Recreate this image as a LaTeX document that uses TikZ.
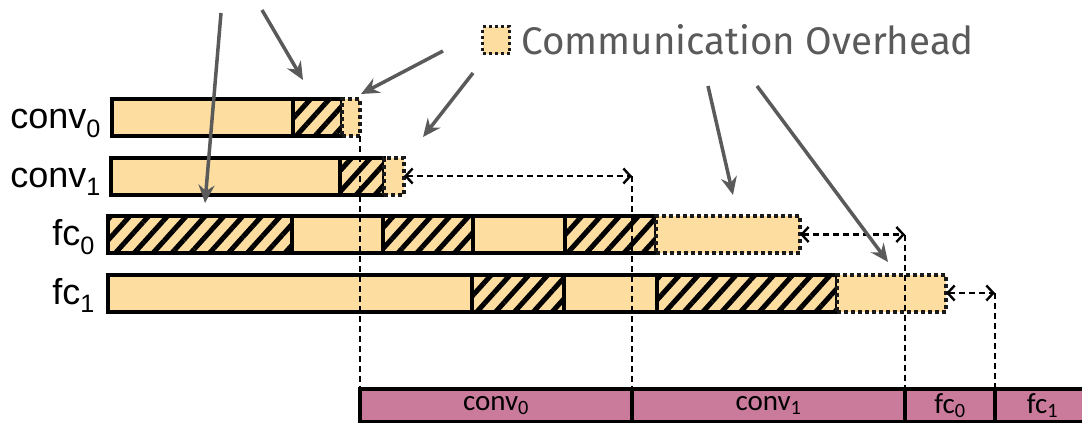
\documentclass[tikz,border=0pt]{standalone}
\usepackage{fontspec}
\setmainfont{Liberation Sans}
\newfontfamily\slotfont{Carlito}
\newfontfamily\keyfont{Fira Sans}
\usetikzlibrary{positioning, arrows.meta, patterns.meta}

\definecolor{peach}{RGB}{253,222,160}
\definecolor{mauve}{RGB}{202,122,155}
\definecolor{pointgray}{RGB}{90,90,90}

\begin{document}
\begin{tikzpicture}[
    x=1pt, y=-1pt,
    every node/.style={inner sep=0pt, outer sep=0pt},
    bar/.style={rectangle, draw, line width=4pt, fill=peach, minimum height=37pt},
    hatched/.style={bar, postaction={pattern={Lines[angle=48, distance=14pt, line width=5pt]}}},
    comm/.style={rectangle, draw=black!90, line width=4pt, dash pattern=on 4pt off 3pt, fill=peach, minimum height=37pt},
    slot/.style={rectangle, draw, line width=4pt, fill=mauve, minimum height=33pt, font=\slotfont\fontsize{29}{32}\selectfont},
    layer/.style={anchor=base east, font=\fontsize{36}{40}\selectfont},
    pointer/.style={draw=pointgray, line width=3.5pt, -{Stealth[length=18pt, width=16pt, inset=6pt]}},
    wait/.style={line width=2.6pt, dash pattern=on 6pt off 4pt},
    >={Straight Barb[length=7pt, width=15pt, line width=2.4pt]}
]
\useasboundingbox (0,0) rectangle (1082,423);

\node (l0) [layer] at (101,128) {conv\textsubscript{0}};
\node (l1) [layer] at (101,187) {conv\textsubscript{1}};
\node (l2) [layer] at (95,245) {fc\textsubscript{0}};
\node (l3) [layer] at (95,304) {fc\textsubscript{1}};

\node (c0a) [bar, minimum width=181pt, anchor=north west] at (112,99) {};
\node (c0b) [hatched, minimum width=49pt, right=0pt of c0a] {};
\node (c0c) [comm, minimum width=18pt, right=0pt of c0b] {};

\node (c1a) [bar, minimum width=229pt, anchor=north west] at (111,157.5) {};
\node (c1b) [hatched, minimum width=44pt, right=0pt of c1a] {};
\node (c1c) [comm, minimum width=20pt, right=0pt of c1b] {};

\node (f0a) [hatched, minimum width=184pt, anchor=north west] at (108,216) {};
\node (f0b) [bar, minimum width=91pt, right=0pt of f0a] {};
\node (f0c) [hatched, minimum width=90pt, right=0pt of f0b] {};
\node (f0d) [bar, minimum width=92pt, right=0pt of f0c] {};
\node (f0e) [hatched, minimum width=91pt, right=0pt of f0d] {};
\node (f0f) [comm, minimum width=144pt, right=0pt of f0e] {};

\node (f1a) [bar, minimum width=364pt, anchor=north west] at (108,274.5) {};
\node (f1b) [hatched, minimum width=92pt, right=0pt of f1a] {};
\node (f1c) [bar, minimum width=93pt, right=0pt of f1b] {};
\node (f1d) [hatched, minimum width=180pt, right=0pt of f1c] {};
\node (f1e) [comm, minimum width=109pt, right=0pt of f1d] {};

\node (t0) [slot, minimum width=272pt, anchor=north west] at (360,389) {conv\textsubscript{0}};
\node (t1) [slot, minimum width=273pt, right=0pt of t0] {conv\textsubscript{1}};
\node (t2) [slot, minimum width=90pt, right=0pt of t1] {fc\textsubscript{0}};
\node (t3) [slot, minimum width=95pt, right=0pt of t2] {fc\textsubscript{1}};

\node (key) [comm, minimum width=27pt, minimum height=27pt, line width=3pt, dash pattern=on 3pt off 3pt] at (496,40) {};
\node (keytext) [right=12pt of key, text=pointgray, font=\keyfont\fontsize{38.5}{44}\selectfont] {Communication Overhead};

\coordinate (c1end) at (c1c.east -| t1.north west);
\coordinate (f0end) at (f0f.east -| t2.north west);
\coordinate (f1end) at (f1e.east -| t3.north west);

\draw [wait] (c0c.south east) -- (t0.north west);
\draw [wait, <->] (c1c.east) -- (c1end);
\draw [wait] (c1end) -- (t1.north west);
\draw [wait, <->] (f0f.east) -- (f0end);
\draw [wait] (f0end) -- (t2.north west);
\draw [wait, <->] (f1e.east) -- (f1end);
\draw [wait] (f1end) -- (t3.north west);

\coordinate (h0) at (221,13);
\coordinate (h1) at (262,10);
\coordinate (k0) at (443,51);
\coordinate (k1) at (473,73);
\coordinate (k2) at (708,86);
\coordinate (k3) at (757,86);
\coordinate (h0tip) at (205,203);
\coordinate (h1tip) at (303,80);
\coordinate (k0tip) at (361,94);
\coordinate (k1tip) at (423,137);
\coordinate (k2tip) at (733,195);
\coordinate (k3tip) at (888,262);

\draw [pointer] (h0) -- (h0tip);
\draw [pointer] (h1) -- (h1tip);
\draw [pointer] (k0) -- (k0tip);
\draw [pointer] (k1) -- (k1tip);
\draw [pointer] (k2) -- (k2tip);
\draw [pointer] (k3) -- (k3tip);

\end{tikzpicture}
\end{document}
